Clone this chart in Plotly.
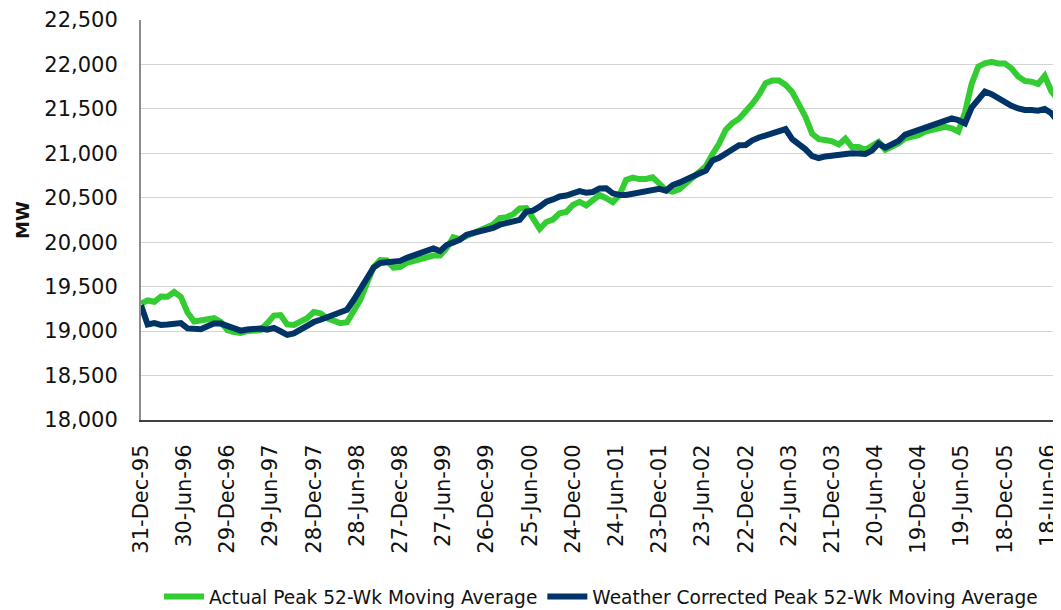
import pandas as pd
import plotly.graph_objects as go

# Weekly series sampled every 4 weeks, starting 31-Dec-1995
start_date = "1995-12-31"

actual_peak = [
    19310, 19345, 19330, 19390, 19386, 19440, 19385, 19210, 19108, 19120,
    19138, 19145, 19105, 19011, 18990, 18980, 19000, 19011, 19011, 19090,
    19175, 19180, 19075, 19070, 19110, 19145, 19215, 19200, 19145, 19110,
    19090, 19100, 19230, 19350, 19540, 19720, 19800, 19795, 19715, 19720,
    19768, 19790, 19812, 19838, 19850, 19850, 19935, 20055, 20035, 20070,
    20105, 20145, 20175, 20200, 20272, 20282, 20315, 20380, 20385, 20280,
    20150, 20228, 20255, 20325, 20340, 20420, 20455, 20415, 20475, 20530,
    20495, 20450, 20530, 20700, 20727, 20710, 20712, 20730, 20660, 20585,
    20570, 20595, 20660, 20730, 20790, 20855, 20990, 21110, 21265, 21340,
    21390, 21470, 21557, 21660, 21790, 21820, 21820, 21770, 21690, 21550,
    21410, 21220, 21160, 21150, 21135, 21100, 21165, 21070, 21070, 21040,
    21085, 21130, 21040, 21070, 21110, 21170, 21187, 21205, 21245, 21260,
    21282, 21297, 21281, 21245, 21460, 21780, 21975, 22012, 22030, 22012,
    22012, 21955, 21865, 21815, 21806, 21780, 21870, 21700, 21600,
]

weather_corrected = [
    19290, 19075, 19090, 19070, 19075, 19082, 19090, 19030, 19020, 19020,
    19055, 19085, 19085, 19060, 19025, 19005, 19018, 19030, 19030, 19017,
    19035, 18998, 18958, 18975, 19020, 19070, 19102, 19128, 19158, 19185,
    19210, 19240, 19350, 19470, 19610, 19715, 19767, 19778, 19784, 19790,
    19824, 19852, 19880, 19902, 19930, 19900, 19968, 19998, 20028, 20085,
    20100, 20114, 20135, 20160, 20197, 20220, 20232, 20252, 20344, 20355,
    20400, 20455, 20482, 20515, 20525, 20545, 20575, 20558, 20565, 20605,
    20606, 20550, 20531, 20531, 20543, 20557, 20574, 20594, 20600, 20580,
    20642, 20670, 20710, 20750, 20773, 20806, 20920, 20950, 21000, 21052,
    21090, 21094, 21147, 21178, 21205, 21230, 21242, 21272, 21160, 21110,
    21045, 20970, 20947, 20965, 20978, 20975, 21000, 21000, 20999, 20993,
    21030, 21110, 21065, 21094, 21140, 21210, 21236, 21265, 21298, 21318,
    21350, 21372, 21394, 21373, 21337, 21515, 21615, 21695, 21665, 21620,
    21570, 21535, 21505, 21487, 21487, 21480, 21500, 21450, 21360,
]

dates = pd.date_range(start_date, periods=len(actual_peak), freq="28D")

tick_labels = [
    "31-Dec-95", "30-Jun-96", "29-Dec-96", "29-Jun-97", "28-Dec-97", "28-Jun-98",
    "27-Dec-98", "27-Jun-99", "26-Dec-99", "25-Jun-00", "24-Dec-00", "24-Jun-01",
    "23-Dec-01", "23-Jun-02", "22-Dec-02", "22-Jun-03", "21-Dec-03", "20-Jun-04",
    "19-Dec-04", "19-Jun-05", "18-Dec-05", "18-Jun-06",
]
tick_vals = [pd.to_datetime(t, format="%d-%b-%y") for t in tick_labels]

y_ticks = [18000, 18500, 19000, 19500, 20000, 20500, 21000, 21500, 22000, 22500]

GREEN = "#33CC33"
NAVY = "#003366"
FONT = "DejaVu Sans"

fig = go.Figure()
fig.add_trace(go.Scatter(
    x=dates, y=actual_peak, mode="lines",
    name="Actual Peak 52-Wk Moving Average",
    line=dict(color=GREEN, width=6),
))
fig.add_trace(go.Scatter(
    x=dates, y=weather_corrected, mode="lines",
    name="Weather Corrected Peak 52-Wk Moving Average",
    line=dict(color=NAVY, width=6),
))

x_start = pd.Timestamp(start_date)
x_end = x_start + pd.Timedelta(days=553.8 * 7)

# page body has an 8px margin, so the figure is 8px smaller than the window
fig.update_layout(
    width=1053, height=602,
    margin=dict(l=133, r=0, t=12, b=190, autoexpand=False),
    paper_bgcolor="white", plot_bgcolor="white",
    font=dict(family=FONT, size=20, color="#111111"),
    showlegend=True,
    legend=dict(
        orientation="h", x=0.5, xanchor="center", y=-0.4425, yanchor="middle",
        font=dict(family=FONT, size=18.6, color="#111111"),
        itemwidth=40, tracegroupgap=0,
    ),
    xaxis=dict(
        type="date", range=[x_start, x_end], automargin=False,
        tickvals=tick_vals, ticktext=tick_labels, tickangle=-90,
        showgrid=False, showline=True, linecolor="#404040", linewidth=2,
        ticks="", ticklabelstandoff=14,
        tickfont=dict(family=FONT, size=21, color="#111111"),
        zeroline=False,
    ),
    yaxis=dict(
        range=[18000, 22500], tickvals=y_ticks, automargin=False,
        tickformat=",d",
        showgrid=True, gridcolor="#D4D4D4", gridwidth=1,
        showline=True, linecolor="#8C8C8C", linewidth=2,
        ticks="", ticklabelstandoff=17,
        tickfont=dict(family=FONT, size=21, color="#111111"),
        title=dict(text="<b>MW</b>", font=dict(family=FONT, size=18, color="#111111"), standoff=10),
        zeroline=False,
    ),
)

fig.write_html("out.html")
